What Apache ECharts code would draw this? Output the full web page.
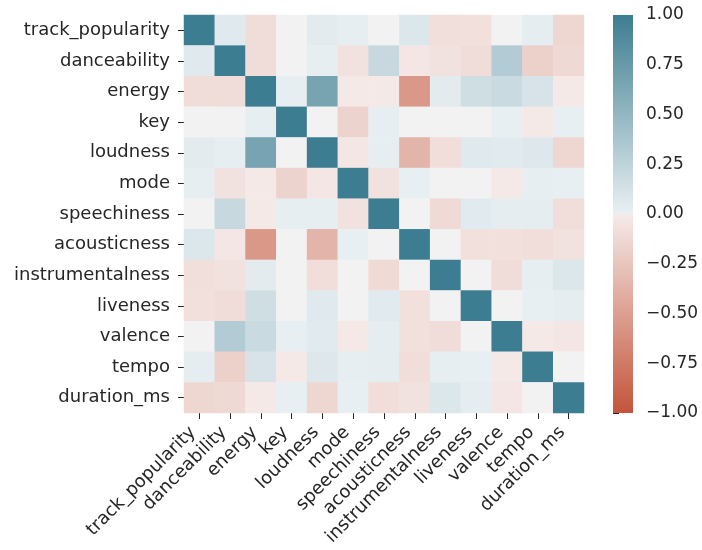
<!DOCTYPE html>
<html>
<head>
<meta charset="utf-8">
<script src="https://cdn.jsdelivr.net/npm/echarts@6/dist/echarts.min.js"></script>
<style>html,body{margin:0;padding:0;background:#fff;}#c{width:702px;height:550px;}</style>
</head>
<body>
<div id="c"></div>
<script>
const features = ['track_popularity','danceability','energy','key','loudness','mode','speechiness','acousticness','instrumentalness','liveness','valence','tempo','duration_ms'];
const track_popularity = [1.00, 0.06, -0.10, 0.00, 0.04, 0.02, 0.00, 0.08, -0.08, -0.07, 0.00, 0.03, -0.14];
const danceability     = [0.06, 1.00, -0.10, 0.00, 0.02, -0.06, 0.20, -0.03, -0.06, -0.10, 0.32, -0.18, -0.12];
const energy           = [-0.10, -0.10, 1.00, 0.02, 0.66, -0.01, -0.01, -0.55, 0.04, 0.16, 0.19, 0.11, -0.01];
const key              = [0.00, 0.00, 0.02, 1.00, 0.00, -0.16, 0.02, 0.00, 0.00, 0.00, 0.01, -0.01, 0.01];
const loudness         = [0.04, 0.02, 0.66, 0.00, 1.00, -0.03, 0.02, -0.36, -0.09, 0.06, 0.05, 0.07, -0.14];
const mode             = [0.02, -0.06, -0.01, -0.16, -0.03, 1.00, -0.06, 0.01, 0.00, 0.00, -0.01, 0.02, 0.01];
const speechiness      = [0.00, 0.20, -0.01, 0.02, 0.02, -0.06, 1.00, 0.00, -0.11, 0.05, 0.03, 0.03, -0.09];
const acousticness     = [0.08, -0.03, -0.55, 0.00, -0.36, 0.01, 0.00, 1.00, 0.00, -0.07, -0.07, -0.09, -0.06];
const instrumentalness = [-0.08, -0.06, 0.04, 0.00, -0.09, 0.00, -0.11, 0.00, 1.00, 0.00, -0.10, 0.02, 0.08];
const liveness         = [-0.07, -0.10, 0.16, 0.00, 0.06, 0.00, 0.05, -0.07, 0.00, 1.00, 0.00, 0.01, 0.03];
const valence          = [0.00, 0.32, 0.19, 0.01, 0.05, -0.01, 0.03, -0.07, -0.10, 0.00, 1.00, -0.01, -0.03];
const tempo            = [0.03, -0.18, 0.11, -0.01, 0.07, 0.02, 0.03, -0.09, 0.02, 0.01, -0.01, 1.00, 0.00];
const duration_ms      = [-0.14, -0.12, -0.01, 0.01, -0.14, 0.01, -0.09, -0.06, 0.08, 0.03, -0.03, 0.00, 1.00];
const colorbarRange = [-1, 1];
const colorbarStep = 0.25;

const rows = [track_popularity, danceability, energy, key, loudness, mode, speechiness, acousticness, instrumentalness, liveness, valence, tempo, duration_ms];
const data = [];
rows.forEach((row, i) => row.forEach((v, j) => data.push([j, i, v])));

// diverging palette (seaborn-like): linear RGB halves
const RED = [196, 84, 58], GNEG = [245, 235, 233], MID = [242, 242, 242], GPOS = [234, 240, 243], BLUE = [61, 125, 145];
function lerp(a, b, t) { return a.map((x, k) => Math.round(x + (b[k] - x) * t)); }
function rgb(c) { return 'rgb(' + c.join(',') + ')'; }
function colorAt(v) {
  if (v < -1e-9) return rgb(lerp(GNEG, RED, -v));
  if (v > 1e-9) return rgb(lerp(GPOS, BLUE, v));
  return rgb(MID);
}
const N = 201;
const palette = [];
for (let k = 0; k < N; k++) palette.push(colorAt(-1 + 2 * k / (N - 1)));

const FONT = 'DejaVu Sans';
const TXT = '#262626';
const chart = echarts.init(document.getElementById('c'), null, {renderer: 'canvas'});
chart.setOption({
  animation: false,
  backgroundColor: '#fff',
  grid: [
    {left: 184, top: 15, width: 400, height: 398},
    {left: 613, top: 15, width: 20, height: 398}
  ],
  xAxis: [
    {type: 'category', data: features, gridIndex: 0,
     axisLine: {show: false}, splitLine: {show: false},
     axisTick: {show: true, alignWithLabel: true, length: 6, lineStyle: {color: TXT, width: 1}},
     axisLabel: {rotate: 45, interval: 0, margin: 23, align: 'right', verticalAlign: 'bottom',
       fontSize: 18, fontFamily: FONT, color: TXT}},
    {type: 'value', gridIndex: 1, show: false, min: 0, max: 1}
  ],
  yAxis: [
    {type: 'category', data: features, gridIndex: 0, inverse: true,
     axisLine: {show: false}, splitLine: {show: false},
     axisTick: {show: true, alignWithLabel: true, length: 6, lineStyle: {color: TXT, width: 1}},
     axisLabel: {interval: 0, margin: 14, fontSize: 18, fontFamily: FONT, color: TXT}},
    {type: 'value', gridIndex: 1, position: 'right', min: colorbarRange[0], max: colorbarRange[1], interval: colorbarStep,
     axisLine: {show: false}, splitLine: {show: false},
     axisTick: {show: true, length: 6, lineStyle: {color: TXT, width: 1}},
     axisLabel: {margin: 13, fontSize: 17, fontFamily: FONT, color: TXT,
       formatter: v => (v < 0 ? '\u2212' : '') + Math.abs(v).toFixed(2)}}
  ],
  visualMap: {
    type: 'continuous', show: false, min: colorbarRange[0], max: colorbarRange[1], dimension: 2, seriesIndex: 0,
    inRange: {color: palette}
  },
  series: [{
    type: 'heatmap', xAxisIndex: 0, yAxisIndex: 0, data: data,
    itemStyle: {borderWidth: 0},
    emphasis: {disabled: true}
  }, {
    type: 'custom', xAxisIndex: 1, yAxisIndex: 1, silent: true,
    data: [[colorbarRange[0], colorbarRange[1]]],
    renderItem: function (params, api) {
      const lo = api.coord([0, api.value(0)]);
      const hi = api.coord([1, api.value(1)]);
      return {
        type: 'rect',
        shape: {x: lo[0], y: hi[1], width: hi[0] - lo[0], height: lo[1] - hi[1]},
        style: {
          fill: new echarts.graphic.LinearGradient(0, 0, 0, 1, [
            {offset: 0, color: rgb(BLUE)},
            {offset: 0.4995, color: rgb(GPOS)},
            {offset: 0.5, color: rgb(MID)},
            {offset: 0.5005, color: rgb(GNEG)},
            {offset: 1, color: rgb(RED)}
          ])
        }
      };
    }
  }]
});
</script>
</body>
</html>
